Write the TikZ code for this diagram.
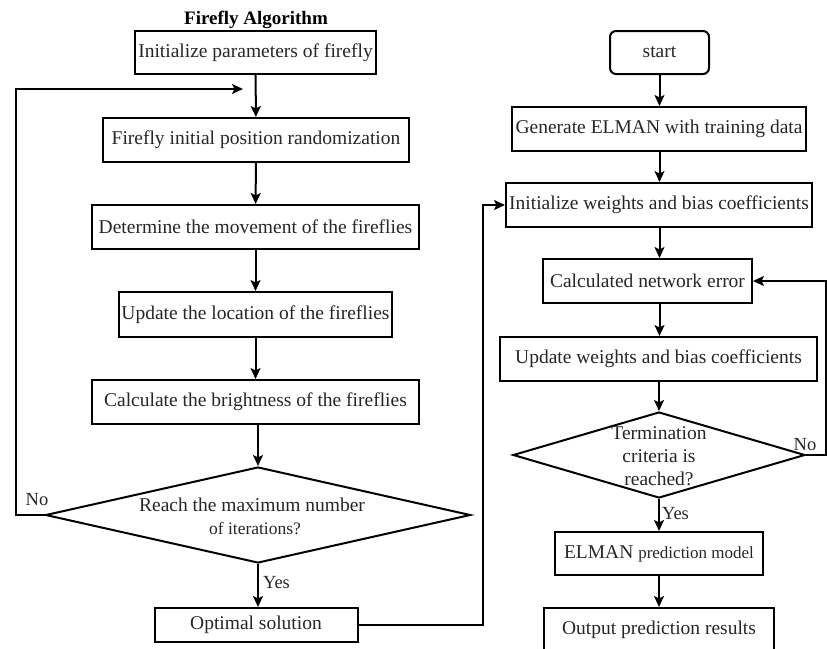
\documentclass[tikz,border=0pt]{standalone}
\usepackage{fontspec}
\setmainfont{Liberation Serif}
\usetikzlibrary{arrows.meta,shapes.geometric}

\tikzset{
  every node/.style={font=\fontsize{19.5}{22}\selectfont, text=black!85},
  flowbox/.style={draw=black, line width=2pt, rectangle, inner sep=0pt, anchor=center},
  startbox/.style={flowbox, rounded corners=6pt},
  decision/.style={draw=black, line width=2pt, diamond, inner sep=0pt, anchor=center},
  flow/.style={line width=2pt, -{Stealth[length=11pt,width=10pt,inset=2.5pt]}},
  small/.style={font=\fontsize{17.5}{20}\selectfont},
  branch/.style={font=\fontsize{18.5}{21}\selectfont, inner sep=0pt},
}

\begin{document}
\begin{tikzpicture}[x=1pt, y=-1pt]
  \useasboundingbox (0,0) rectangle (827,648);

  % ---------- Firefly algorithm (left column) ----------
  \node[font=\bfseries\fontsize{19}{22}\selectfont, text=black, anchor=base, inner sep=0pt] (title) at (256,24) {Firefly Algorithm};
  \node[flowbox, minimum width=241pt, minimum height=43pt] (b1) at (255.5,52.5) {Initialize parameters of firefly};
  \node[flowbox, minimum width=306pt, minimum height=44pt] (b2) at (256,140) {Firefly initial position randomization};
  \node[flowbox, minimum width=327pt, minimum height=44pt] (b3) at (255.5,227) {Determine the movement of the fireflies};
  \node[flowbox, minimum width=273pt, minimum height=45pt] (b4) at (255.5,314.5) {Update the location of the fireflies};
  \node[flowbox, minimum width=327pt, minimum height=44pt] (b5) at (255.5,402) {Calculate the brightness of the fireflies};

  \node[decision, minimum width=425pt, minimum height=96pt] (d1) at (258,515) {};
  \node (d1a) at (252,505) {Reach the maximum number};
  \node[small] (d1b) at (255,528) {of iterations?};

  \node[flowbox, minimum width=203pt, minimum height=34pt] (opt) at (256,625) {Optimal solution};

  \coordinate (loopL1) at (16,515);
  \coordinate (loopL2) at (16,89);
  \coordinate (loopL3) at (243,89);
  \coordinate (jmp1) at (483,625);
  \coordinate (jmp2) at (483,205);

  \draw[flow] (b1) -- (b2);
  \draw[flow] (b2) -- (b3);
  \draw[flow] (b3) -- (b4);
  \draw[flow] (b4) -- (b5);
  \draw[flow] (b5.south -| d1.north) -- (d1.north);
  \draw[flow] (d1.south) -- (d1.south |- opt.north)
    node[branch, pos=0.42, anchor=west, xshift=4pt] {Yes};
  \draw[flow] (d1.west) -- (loopL1) -- (loopL2) -- (loopL3);
  \node[branch] (no1) at (37,500) {No};

  % ---------- ELMAN network (right column) ----------
  \node[startbox, minimum width=99pt, minimum height=43pt] (start) at (659.5,52.5) {start};
  \node[flowbox, minimum width=294pt, minimum height=44pt] (g1) at (659,129) {Generate ELMAN with training data};
  \node[flowbox, minimum width=306pt, minimum height=44pt] (g2) at (659,205) {Initialize weights and bias coefficients};
  \node[flowbox, minimum width=209pt, minimum height=44pt] (g3) at (647.5,281) {Calculated network error};
  \node[flowbox, minimum width=317pt, minimum height=44pt] (g4) at (658.5,359) {Update weights and bias coefficients};

  \node[decision, minimum width=292pt, minimum height=86pt] (d2) at (659,455) {};
  \node (d2a) at (659,433) {Termination};
  \node (d2b) at (659,456) {criteria is};
  \node (d2c) at (659,479) {reached?};

  \node[flowbox, minimum width=208pt, minimum height=43pt] (g5) at (659,553.5)
    {ELMAN {\fontsize{17}{20}\selectfont prediction model}};
  \node[flowbox, minimum width=230pt, minimum height=44pt] (g6) at (659,630) {Output prediction results};

  \coordinate (loopR1) at (826,455);
  \coordinate (loopR2) at (826,281);

  \draw[flow] (start.south) -- (start.south |- g1.north);
  \draw[flow] (g1.south -| start.south) -- (start.south |- g2.north);
  \draw[flow] (g2.south -| start.south) -- (start.south |- g3.north);
  \draw[flow] (g3.south -| start.south) -- (start.south |- g4.north);
  \draw[flow] (g4.south -| d2.north) -- (d2.north);
  \draw[flow] (d2.south) -- (d2.south |- g5.north)
    node[branch, pos=0.45, anchor=west, xshift=2pt] {Yes};
  \draw[flow] (g5) -- (g6);
  \draw[flow] (d2.east) -- (loopR1) -- (loopR2) -- (g3.east);
  \node[branch] (no2) at (805,445) {No};

  % link between the two procedures
  \draw[flow] (opt.east) -- (jmp1) -- (jmp2) -- (g2.west);
\end{tikzpicture}
\end{document}
